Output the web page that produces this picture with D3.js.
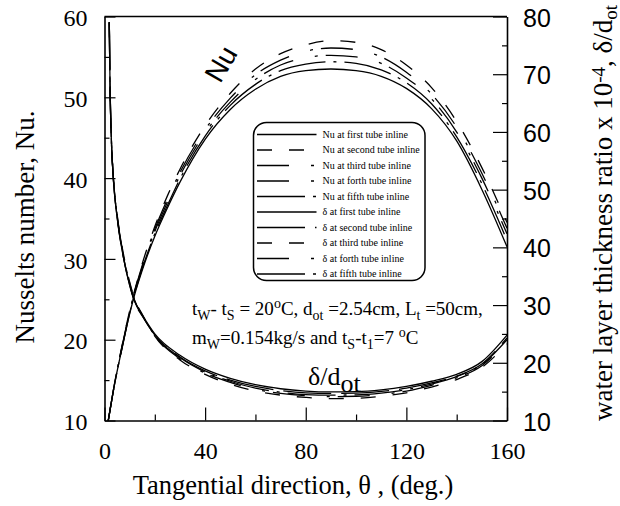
<!DOCTYPE html>
<html>
<head>
<meta charset="utf-8">
<script src="https://cdn.jsdelivr.net/npm/d3@7"></script>
<style>
  html, body { margin: 0; padding: 0; background: #fff; }
  svg { display: block; }
</style>
</head>
<body>
<svg id="chart" width="620" height="506"></svg>
<script>
// Tangential angle (deg.) sampled along each tube surface
const thetaNu = [1.5, 4, 7, 10, 12, 15, 20, 25, 30, 40, 50, 60, 70, 80, 90, 100, 110, 120, 130, 140, 150, 160];
const thetaDelta = [1.9, 2.2, 2.7, 3.5, 5, 7.5, 10, 12, 15, 20, 30, 40, 50, 60, 70, 80, 90, 100, 110, 120, 130, 140, 150, 160];

// Local Nusselt number, tubes 1..5 of the inline bank
const nuTube1 = [10, 14.5, 19.0, 23.2, 25.6, 28.6, 32.8, 36.3, 39.5, 44.8, 48.5, 51.0, 52.6, 53.3, 53.5, 53.3, 52.6, 51.1, 48.6, 44.6, 38.6, 31.5];
const nuTube2 = [10, 14.6, 19.3, 23.6, 26.1, 29.4, 34.0, 37.8, 41.1, 46.5, 50.5, 53.5, 55.4, 56.5, 57.0, 56.8, 55.9, 54.0, 51.2, 47.0, 41.3, 34.5];
const nuTube3 = [10, 14.6, 19.2, 23.5, 26.0, 29.2, 33.7, 37.4, 40.7, 46.0, 49.9, 52.8, 54.6, 55.7, 56.1, 55.9, 55.0, 53.1, 50.4, 46.3, 40.6, 33.8];
const nuTube4 = [10, 14.5, 19.1, 23.4, 25.9, 29.0, 33.4, 37.0, 40.3, 45.6, 49.4, 52.2, 54.0, 54.9, 55.2, 55.0, 54.2, 52.4, 49.8, 45.7, 40.0, 33.1];
const nuTube5 = [10, 14.5, 19.0, 23.3, 25.7, 28.8, 33.1, 36.6, 39.9, 45.2, 49.0, 51.6, 53.3, 54.1, 54.4, 54.2, 53.4, 51.8, 49.2, 45.1, 39.3, 32.3];

// Water layer thickness ratio (x 10^-4), tubes 1..5
const deltaTube1 = [79, 68, 59, 52, 45.3, 38.3, 33.5, 30.6, 28.3, 25.0, 21.3, 18.9, 17.3, 16.2, 15.5, 15.1, 14.95, 15.0, 15.3, 15.9, 16.8, 18.0, 20.2, 24.8];
const deltaTube2 = [79, 68, 59, 52, 45.3, 38.3, 33.4, 30.5, 28.1, 24.8, 21.0, 18.6, 17.0, 15.9, 15.2, 14.8, 14.7, 14.75, 15.05, 15.6, 16.5, 17.7, 19.8, 24.3];
const deltaTube3 = [79, 68.2, 59.3, 52.3, 45.8, 38.9, 34.0, 31.0, 28.4, 24.6, 20.5, 18.0, 16.3, 15.1, 14.4, 14.0, 13.8, 13.85, 14.2, 14.8, 15.8, 17.1, 19.2, 23.3];
const deltaTube4 = [79, 68.1, 59.2, 52.2, 45.6, 38.7, 33.8, 30.8, 28.3, 24.7, 20.7, 18.2, 16.6, 15.4, 14.7, 14.3, 14.15, 14.2, 14.5, 15.1, 16.1, 17.4, 19.5, 23.7];
const deltaTube5 = [79, 68, 59.1, 52.1, 45.5, 38.5, 33.6, 30.7, 28.2, 24.8, 20.9, 18.4, 16.8, 15.6, 14.9, 14.5, 14.4, 14.45, 14.75, 15.35, 16.3, 17.6, 19.7, 24.0];

const legendLabels = [
  "Nu at first tube inline", "Nu at second tube inline", "Nu at third tube inline",
  "Nu at forth tube inline", "Nu at fifth tube inline",
  "\u03B4 at first tube inline", "\u03B4 at second tube inline", "\u03B4 at third tube inline",
  "\u03B4 at forth tube inline", "\u03B4 at fifth tube inline"
];

// Tick values
const xMajorTicks = [0, 40, 80, 120, 160];
const xMinorTicks = [20, 60, 100, 140];
const nuMajorTicks = [10, 20, 30, 40, 50, 60];
const nuMinorTicks = [15, 25, 35, 45, 55];
const deltaMajorTicks = [10, 20, 30, 40, 50, 60, 70, 80];
const deltaMinorTicks = [15, 25, 35, 45, 55, 65, 75];

// Line styles per series
const dashSolid = null;
const dashShort = "15,17";
const dashDot = "32,22,3,8";
const dashLongDot = "48,8,3,8";
const dashLong = "48,10";

const series = [
  { axis: "nu", theta: thetaNu, values: nuTube1, dash: dashSolid },
  { axis: "nu", theta: thetaNu, values: nuTube2, dash: dashShort },
  { axis: "nu", theta: thetaNu, values: nuTube3, dash: dashDot },
  { axis: "nu", theta: thetaNu, values: nuTube4, dash: dashDot },
  { axis: "nu", theta: thetaNu, values: nuTube5, dash: dashLongDot },
  { axis: "delta", theta: thetaDelta, values: deltaTube1, dash: dashSolid },
  { axis: "delta", theta: thetaDelta, values: deltaTube2, dash: dashLong },
  { axis: "delta", theta: thetaDelta, values: deltaTube3, dash: dashShort },
  { axis: "delta", theta: thetaDelta, values: deltaTube4, dash: dashDot },
  { axis: "delta", theta: thetaDelta, values: deltaTube5, dash: dashLongDot }
];

const SERIF = "'Liberation Serif', 'Times New Roman', serif";
const SANS = "'Liberation Sans', Arial, sans-serif";

const svg = d3.select("#chart");
const plot = { left: 104.5, right: 507, top: 16.5, bottom: 420.5 };

const x = d3.scaleLinear().domain([0, 160]).range([plot.left, plot.right]);
const yNu = d3.scaleLinear().domain([10, 60]).range([plot.bottom, plot.top]);
const yDelta = d3.scaleLinear().domain([10, 80]).range([plot.bottom, plot.top]);

svg.append("rect").attr("width", 620).attr("height", 506).attr("fill", "#fff");

// Curves
const plotArea = svg.append("g");
series.forEach(s => {
  const y = s.axis === "nu" ? yNu : yDelta;
  const line = d3.line()
    .x((d, i) => x(s.theta[i]))
    .y(d => y(d))
    .curve(d3.curveMonotoneX);
  plotArea.append("path")
    .attr("d", line(s.values))
    .attr("fill", "none")
    .attr("stroke", "#000")
    .attr("stroke-width", 1.3)
    .attr("stroke-dasharray", s.dash);
});

// Axes
function styleAxis(g) {
  g.selectAll("path.domain").attr("stroke", "#000").attr("stroke-width", 1.6);
  g.selectAll(".tick line").attr("stroke", "#000").attr("stroke-width", 1.2);
}

const bottomAxis = svg.append("g")
  .attr("transform", `translate(0,${plot.bottom})`)
  .call(d3.axisBottom(x).tickValues(xMajorTicks).tickSize(-13).tickSizeOuter(0).tickFormat(d3.format("d")));
bottomAxis.selectAll("text")
  .attr("y", 0).attr("dy", 0).attr("transform", "translate(0,38)")
  .attr("font-family", SERIF).attr("font-size", 24).attr("fill", "#000");
svg.append("g")
  .attr("transform", `translate(0,${plot.bottom})`)
  .call(d3.axisBottom(x).tickValues(xMinorTicks).tickSize(-6).tickSizeOuter(0).tickFormat(""))
  .call(g => g.select(".domain").remove())
  .call(styleAxis);
styleAxis(bottomAxis);

const leftAxis = svg.append("g")
  .attr("transform", `translate(${plot.left},0)`)
  .call(d3.axisLeft(yNu).tickValues(nuMajorTicks).tickSize(-11).tickPadding(17).tickSizeOuter(0));
leftAxis.selectAll("text")
  .attr("dy", "0.38em")
  .attr("font-family", SERIF).attr("font-size", 24).attr("fill", "#000");
svg.append("g")
  .attr("transform", `translate(${plot.left},0)`)
  .call(d3.axisLeft(yNu).tickValues(nuMinorTicks).tickSize(-5).tickSizeOuter(0).tickFormat(""))
  .call(g => g.select(".domain").remove())
  .call(styleAxis);
styleAxis(leftAxis);

const rightAxis = svg.append("g")
  .attr("transform", `translate(${plot.right},0)`)
  .call(d3.axisRight(yDelta).tickValues(deltaMajorTicks).tickSize(-14).tickPadding(16).tickSizeOuter(0));
rightAxis.selectAll("text")
  .attr("dy", "0.38em")
  .attr("font-family", SANS).attr("font-size", 25).attr("fill", "#000");
svg.append("g")
  .attr("transform", `translate(${plot.right},0)`)
  .call(d3.axisRight(yDelta).tickValues(deltaMinorTicks).tickSize(-5).tickSizeOuter(0).tickFormat(""))
  .call(g => g.select(".domain").remove())
  .call(styleAxis);
styleAxis(rightAxis);

// Top border of the frame
svg.append("line")
  .attr("x1", plot.left).attr("x2", plot.right)
  .attr("y1", plot.top).attr("y2", plot.top)
  .attr("stroke", "#000").attr("stroke-width", 1.6);

// Text with sub/superscript runs
function richText(parent, parts, size, smallSize) {
  let shift = 0;
  parts.forEach(p => {
    const target = p.s === "sub" ? 5 : p.s === "sup" ? -7 : 0;
    parent.append("tspan")
      .attr("dy", target - shift)
      .attr("font-size", p.s ? smallSize : size)
      .text(p.t);
    shift = target;
  });
}

// Axis titles
svg.append("text")
  .attr("transform", "translate(33.5,227) rotate(-90)")
  .attr("text-anchor", "middle")
  .attr("font-family", SERIF).attr("font-size", 27)
  .text("Nusselts number, Nu.");

svg.append("text")
  .attr("x", 293).attr("y", 494)
  .attr("text-anchor", "middle")
  .attr("font-family", SERIF).attr("font-size", 26.5)
  .text("Tangential direction, \u03B8 , (deg.)");

const rightTitle = svg.append("text")
  .attr("transform", "translate(612,421) rotate(-90)")
  .attr("text-anchor", "start")
  .attr("font-family", SERIF).attr("font-size", 27);
richText(rightTitle, [
  { t: "water layer thickness ratio x 10" },
  { t: "-4", s: "sup" },
  { t: ", \u03B4/d" },
  { t: "ot", s: "sub" }
], 27, 19);

// Curve family labels
svg.append("text")
  .attr("transform", "translate(221,64) rotate(-60)")
  .attr("text-anchor", "middle").attr("dominant-baseline", "central")
  .attr("font-family", SANS).attr("font-size", 28)
  .text("Nu");

const deltaLabel = svg.append("text")
  .attr("x", 308).attr("y", 385)
  .attr("font-family", SERIF).attr("font-size", 26);
deltaLabel.append("tspan").text("\u03B4/d");
deltaLabel.append("tspan").attr("dy", 7).text("ot");

// Operating conditions
const cond1 = svg.append("text")
  .attr("x", 192).attr("y", 315)
  .attr("font-family", SERIF).attr("font-size", 19);
richText(cond1, [
  { t: "t" }, { t: "W", s: "sub" }, { t: "- t" }, { t: "S", s: "sub" },
  { t: " = 20" }, { t: "o", s: "sup" }, { t: "C, d" }, { t: "ot", s: "sub" },
  { t: " =2.54cm, L" }, { t: "t", s: "sub" }, { t: " =50cm," }
], 19, 14);

const cond2 = svg.append("text")
  .attr("x", 192).attr("y", 344)
  .attr("font-family", SERIF).attr("font-size", 19);
richText(cond2, [
  { t: "m" }, { t: "W", s: "sub" }, { t: "=0.154kg/s and t" }, { t: "S", s: "sub" },
  { t: "-t" }, { t: "1", s: "sub" }, { t: "=7 " }, { t: "o", s: "sup" }, { t: "C" }
], 19, 14);

// Legend
const legend = svg.append("g");
legend.append("rect")
  .attr("x", 253.5).attr("y", 122.5)
  .attr("width", 171.5).attr("height", 158)
  .attr("rx", 13).attr("ry", 13)
  .attr("fill", "#fff").attr("stroke", "#000").attr("stroke-width", 1.5);

const legendY = d3.scaleLinear().domain([0, legendLabels.length - 1]).range([134.5, 274]);
legendLabels.forEach((label, i) => {
  const y = legendY(i);
  legend.append("line")
    .attr("x1", 257).attr("x2", 316.5)
    .attr("y1", y).attr("y2", y)
    .attr("stroke", "#000").attr("stroke-width", 1.3)
    .attr("stroke-dasharray", series[i].dash);
  legend.append("text")
    .attr("x", 322.5).attr("y", y + 3.3)
    .attr("font-family", SERIF).attr("font-size", 10)
    .text(label);
});
</script>
</body>
</html>
